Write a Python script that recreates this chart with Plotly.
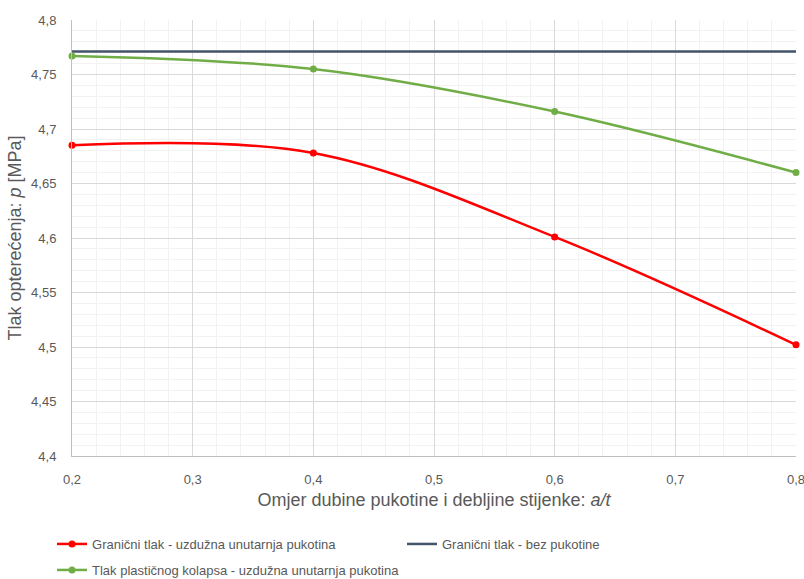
import plotly.graph_objects as go

x_vals = [0.2, 0.4, 0.6, 0.8]
granicni_pukotina = [4.685, 4.678, 4.601, 4.502]
granicni_bez = [4.771, 4.771, 4.771, 4.771]
plasticni_kolaps = [4.767, 4.755, 4.716, 4.660]

names = [
    "Granični tlak - uzdužna unutarnja pukotina",
    "Granični tlak - bez pukotine",
    "Tlak plastičnog kolapsa - uzdužna unutarnja pukotina",
]

x_ticks = [0.2, 0.3, 0.4, 0.5, 0.6, 0.7, 0.8]
x_ticklabels = ["0,2", "0,3", "0,4", "0,5", "0,6", "0,7", "0,8"]
y_ticks = [4.4, 4.45, 4.5, 4.55, 4.6, 4.65, 4.7, 4.75, 4.8]
y_ticklabels = ["4,4", "4,45", "4,5", "4,55", "4,6", "4,65", "4,7", "4,75", "4,8"]

FONT = "Liberation Sans"
GRAY = "#595959"
W, H = 804, 579

fig = go.Figure()
fig.add_trace(go.Scatter(
    x=x_vals, y=granicni_pukotina, name=names[0], mode="lines+markers",
    line=dict(color="#FF0000", width=2.5, shape="spline", smoothing=1),
    marker=dict(size=7, color="#FF0000"), cliponaxis=False, legend="legend",
))
fig.add_trace(go.Scatter(
    x=x_vals, y=granicni_bez, name=names[1], mode="lines",
    line=dict(color="#44546A", width=2.5), cliponaxis=False, legend="legend3",
))
fig.add_trace(go.Scatter(
    x=x_vals, y=plasticni_kolaps, name=names[2], mode="lines+markers",
    line=dict(color="#70AD47", width=2.5, shape="spline", smoothing=1),
    marker=dict(size=7, color="#70AD47"), cliponaxis=False, legend="legend2",
))

legend_common = dict(
    orientation="h", xref="paper", xanchor="left",
    yref="container", yanchor="top", itemwidth=30,
    font=dict(family=FONT, size=13, color=GRAY),
    bgcolor="rgba(0,0,0,0)",
)

fig.update_layout(
    template="none",
    width=W, height=H,
    margin=dict(l=72, r=8, t=20, b=123),
    paper_bgcolor="white", plot_bgcolor="white",
    font=dict(family=FONT, color=GRAY, size=13),
    showlegend=True,
    legend=dict(legend_common, x=-0.0276, y=1 - 529 / H),
    legend3=dict(legend_common, x=0.4558, y=1 - 529 / H),
    legend2=dict(legend_common, x=-0.0276, y=1 - 555 / H),
    xaxis=dict(
        range=[0.2, 0.8], tickvals=x_ticks, ticktext=x_ticklabels,
        showgrid=True, gridcolor="#D9D9D9", gridwidth=1,
        minor=dict(dtick=0.02, tick0=0.2, showgrid=True, gridcolor="#F2F2F2", gridwidth=1, ticks=""),
        showline=True, linecolor="#BFBFBF", linewidth=1,
        zeroline=False, ticks="", ticklabelstandoff=11, automargin=False,
        ticklabeloverflow="allow",
        tickfont=dict(family=FONT, size=13, color=GRAY),
        title=dict(text="Omjer dubine pukotine i debljine stijenke: <i>a/t</i>",
                   font=dict(family=FONT, size=18, color=GRAY), standoff=7),
    ),
    yaxis=dict(
        range=[4.4, 4.8], tickvals=y_ticks, ticktext=y_ticklabels,
        showgrid=True, gridcolor="#D9D9D9", gridwidth=1,
        minor=dict(dtick=0.01, tick0=4.4, showgrid=True, gridcolor="#F2F2F2", gridwidth=1, ticks=""),
        showline=True, linecolor="#BFBFBF", linewidth=1,
        zeroline=False, ticks="", ticklabelstandoff=12, automargin=False,
        ticklabeloverflow="allow",
        tickfont=dict(family=FONT, size=13, color=GRAY),
        title=dict(text="Tlak opterećenja: <i>p</i> [MPa]",
                   font=dict(family=FONT, size=18, color=GRAY), standoff=4),
    ),
)

fig.write_html(
    "out.html",
    config={"displayModeBar": False},
    post_script="document.body.style.margin='0';document.body.style.overflow='hidden';",
)
